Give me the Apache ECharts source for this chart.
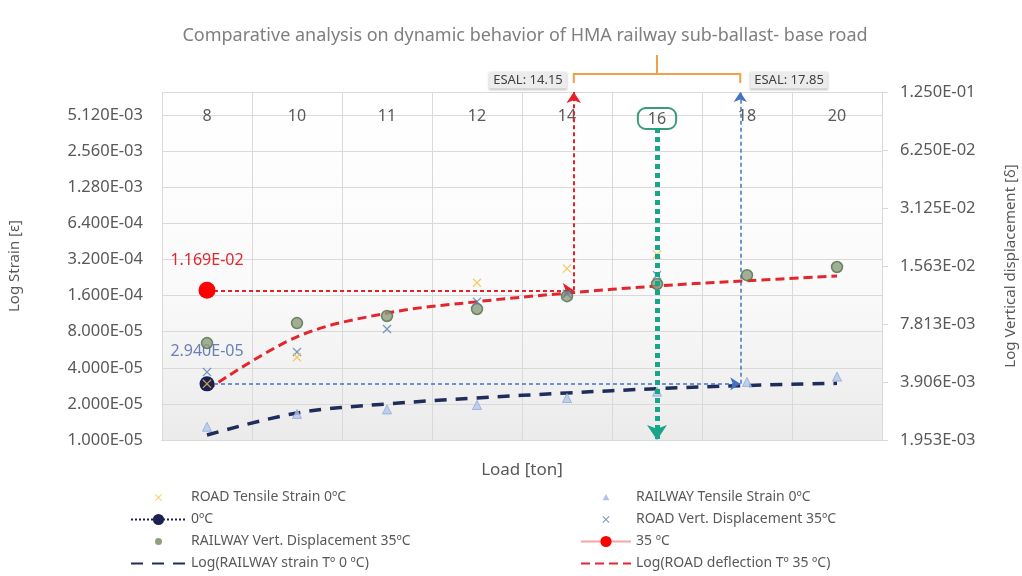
<!DOCTYPE html>
<html>
<head>
<meta charset="utf-8">
<title>HMA railway sub-ballast vs base road</title>
<script src="https://cdn.jsdelivr.net/npm/echarts@6/dist/echarts.min.js"></script>
<style>
  html, body { margin: 0; padding: 0; background: #fff; }
  #chart { width: 1022px; height: 576px; }
</style>
</head>
<body>
<div id="chart"></div>
<script>
// load categories [ton]
const loads = ['8', '10', '11', '12', '14', '16', '18', '20'];

// strain values (left axis, log base 2)
const roadTensile0 = [2.94e-5, 4.9e-5, null, 2.05e-4, 2.69e-4, 3.52e-4, null, null];
const railTensile0 = [1.29e-5, 1.65e-5, 1.8e-5, 1.96e-5, 2.24e-5, 2.53e-5, 3.05e-5, 3.38e-5];
const cold0 = [2.94e-5, null, null, null, null, null, null, null];
const railStrainTrend = [1.10e-5, 1.68e-5, 2.0e-5, 2.24e-5, 2.47e-5, 2.68e-5, 2.85e-5, 2.97e-5];

// vertical displacement values (right axis, log base 2)
const roadVert35 = [4.4e-3, 5.59e-3, 7.36e-3, 1.02e-2, 1.12e-2, 1.40e-2, null, null];
const railVert35 = [6.22e-3, 7.9e-3, 8.6e-3, 9.35e-3, 1.09e-2, 1.26e-2, 1.40e-2, 1.544e-2];
const hot35 = [1.169e-2, null, null, null, null, null, null, null];
const roadDeflTrend = [3.55e-3, 6.7e-3, 8.9e-3, 1.02e-2, 1.13e-2, 1.23e-2, 1.31e-2, 1.385e-2];

// ESAL limits [ton] and highlighted load
const esal = [14.15, 17.85];
const focusLoad = '16';

// axis ranges
const strainMin = 1e-5, strainMax = 8e-3;
const dispMin = 0.001953125, dispMax = 0.125;

const font = 'Noto Sans';
const grey = '#595959';

// log2 position on each axis
const sL = v => v == null ? '-' : Math.log2(v / strainMin);
const dL = v => v == null ? '-' : Math.log2(v / dispMin);

// 5.120E-03 style
function sci(v) {
  const parts = v.toExponential(3).split('e');
  const n = parseInt(parts[1], 10);
  return parts[0] + 'E' + (n < 0 ? '-' : '+') + String(Math.abs(n)).padStart(2, '0');
}

// position of a load on the category index scale
function loadIndex(t) {
  const nums = loads.map(Number);
  for (let i = 0; i < nums.length - 1; i++) {
    if (t >= nums[i] && t <= nums[i + 1]) {
      return i + (t - nums[i]) / (nums[i + 1] - nums[i]);
    }
  }
  return nums.length - 1;
}

// marker shapes; the legend versions carry an invisible 20x20 frame so they stay small
const xMark = 'path://M0,1L1,0L5,4L9,0L10,1L6,5L10,9L9,10L5,6L1,10L0,9L4,5Z';
const triMark = 'path://M5,0L10,9L0,9Z';
const frame = 'M0,0L0.01,0L0,0.01ZM20,20L19.99,20L20,19.99Z';
const xIcon = 'path://' + frame + 'M5,6L6,5L10,9L14,5L15,6L11,10L15,14L14,15L10,11L6,15L5,14L9,10Z';
const triIcon = 'path://' + frame + 'M10,5L15,14L5,14Z';
const dotIcon = 'path://' + frame + 'M10,5A5,5,0,1,1,9.99,5Z';

const e1 = loadIndex(esal[0]);
const e2 = loadIndex(esal[1]);
const focusIdx = loads.indexOf(focusLoad);

const chart = echarts.init(document.getElementById('chart'));

const legendText = { color: grey, fontSize: 14, lineHeight: 17, fontFamily: font };
const hideSymbol = { opacity: 0 };

chart.setOption({
  animation: false,
  backgroundColor: '#fff',
  textStyle: { fontFamily: font },
  title: {
    text: 'Comparative analysis on dynamic behavior of HMA railway sub-ballast- base road',
    left: 520,
    top: 22,
    textAlign: 'center',
    textStyle: { color: '#7f7f7f', fontSize: 18, fontWeight: 'normal', fontFamily: font }
  },
  grid: {
    left: 162, right: 140, top: 92, bottom: 136,
    show: true,
    borderWidth: 0,
    outerBoundsMode: 'none',
    backgroundColor: {
      type: 'linear', x: 0, y: 0, x2: 0, y2: 1,
      colorStops: [
        { offset: 0, color: '#ffffff' },
        { offset: 0.55, color: '#fafafa' },
        { offset: 1, color: '#ebebeb' }
      ]
    }
  },
  legend: [
    {
      data: [
        { name: 'ROAD Tensile Strain 0ºC', icon: xIcon },
        { name: '0ºC' },
        { name: 'RAILWAY Vert. Displacement 35ºC', icon: dotIcon, itemStyle: { borderWidth: 0, color: '#6f8a60' } },
        { name: 'Log(RAILWAY strain Tº 0 ºC)', itemStyle: hideSymbol }
      ],
      orient: 'vertical', left: 130, top: 489, padding: 0,
      itemWidth: 55, itemHeight: 14, itemGap: 5,
      selectedMode: false, textStyle: legendText
    },
    {
      data: [
        { name: 'RAILWAY Tensile Strain 0ºC', icon: triIcon, itemStyle: { borderWidth: 0, color: '#9fb6dd' } },
        { name: 'ROAD Vert. Displacement 35ºC', icon: xIcon },
        { name: '35 ºC' },
        { name: 'Log(ROAD deflection Tº 35 ºC)', itemStyle: hideSymbol }
      ],
      orient: 'vertical', left: 580, top: 489, padding: 0,
      itemWidth: 50, itemHeight: 14, itemGap: 5,
      selectedMode: false, textStyle: legendText
    }
  ],
  xAxis: [
    {
      type: 'category',
      data: loads,
      position: 'top',
      boundaryGap: true,
      axisLine: { lineStyle: { color: '#d9d9d9' } },
      axisTick: { show: false },
      splitLine: { show: true, interval: 0, lineStyle: { color: '#d9d9d9' } },
      axisLabel: {
        inside: true, margin: 16, interval: 0,
        color: grey, fontSize: 16,
        formatter: v => v === focusLoad ? '{hl|' + v + '}' : v,
        rich: {
          hl: {
            color: grey, fontSize: 16,
            borderColor: '#3c9a7c', borderWidth: 2, borderRadius: 8,
            padding: [3, 10, 2, 10]
          }
        }
      }
    },
    {
      type: 'category',
      data: loads,
      position: 'bottom',
      axisLine: { lineStyle: { color: '#d9d9d9' } },
      axisTick: { show: false },
      axisLabel: { show: false },
      name: 'Load [ton]',
      nameLocation: 'middle',
      nameGap: 22,
      nameTextStyle: { color: grey, fontSize: 17 }
    },
    {
      // index scale for the ESAL guides
      type: 'value', show: false, min: -0.5, max: loads.length - 0.5
    }
  ],
  yAxis: [
    {
      type: 'value',
      min: 0,
      max: Math.log2(strainMax / strainMin),
      interval: 1,
      axisLine: { show: false },
      axisTick: { show: false },
      splitLine: { lineStyle: { color: '#d9d9d9' } },
      axisLabel: {
        color: grey, fontSize: 16.5, margin: 19, showMaxLabel: false,
        formatter: v => sci(strainMin * Math.pow(2, v))
      },
      name: 'Log Strain [ε]',
      nameLocation: 'middle',
      nameGap: 140,
      nameTextStyle: { color: grey, fontSize: 15 }
    },
    {
      type: 'value',
      position: 'right',
      min: 0,
      max: Math.log2(dispMax / dispMin),
      interval: 1,
      axisLine: { show: true, lineStyle: { color: '#d9d9d9' } },
      axisTick: { show: true, length: 6, lineStyle: { color: '#d9d9d9' } },
      splitLine: { show: false },
      axisLabel: {
        color: grey, fontSize: 16.5, margin: 18,
        formatter: v => sci(dispMin * Math.pow(2, v))
      },
      name: 'Log Vertical displacement [δ]',
      nameLocation: 'middle',
      nameRotate: 90,
      nameGap: 121,
      nameTextStyle: { color: grey, fontSize: 15 }
    }
  ],
  series: [
    {
      name: 'Log(ROAD deflection Tº 35 ºC)',
      type: 'line',
      xAxisIndex: 0, yAxisIndex: 1,
      data: roadDeflTrend.map(dL),
      smooth: 0.35,
      symbol: 'none',
      lineStyle: { color: '#e3262e', width: 3, type: [9, 5] },
      itemStyle: { color: '#e3262e' },
      z: 2
    },
    {
      name: 'Log(RAILWAY strain Tº 0 ºC)',
      type: 'line',
      xAxisIndex: 0, yAxisIndex: 0,
      data: railStrainTrend.map(sL),
      smooth: 0.35,
      symbol: 'none',
      lineStyle: { color: '#1f2d5a', width: 3.5, type: [12, 9] },
      itemStyle: { color: '#1f2d5a' },
      z: 2
    },
    {
      // 35 ºC guide to ESAL 14.15
      type: 'lines',
      coordinateSystem: 'cartesian2d',
      xAxisIndex: 2, yAxisIndex: 1,
      symbol: ['none', 'arrow'],
      symbolSize: 11,
      lineStyle: { color: '#e8202a', width: 2, type: [4, 3], opacity: 1 },
      data: [
        { coords: [[0, dL(hot35[0])], [e1, dL(hot35[0])]] },
        { coords: [[e1, dL(hot35[0])], [e1, dL(dispMax)]] }
      ],
      z: 3
    },
    {
      // 0 ºC guide to ESAL 17.85
      type: 'lines',
      coordinateSystem: 'cartesian2d',
      xAxisIndex: 2, yAxisIndex: 0,
      symbol: ['none', 'arrow'],
      symbolSize: 10,
      lineStyle: { color: '#4472c4', width: 1.5, type: [4, 3], opacity: 1 },
      data: [
        { coords: [[0, sL(cold0[0])], [e2, sL(cold0[0])]] },
        { coords: [[e2, sL(cold0[0])], [e2, sL(strainMax)]] }
      ],
      z: 3
    },
    {
      // highlighted load
      type: 'lines',
      coordinateSystem: 'cartesian2d',
      xAxisIndex: 2, yAxisIndex: 0,
      symbol: ['none', 'arrow'],
      symbolSize: 15,
      lineStyle: { color: '#17a689', width: 5, type: [5, 4], opacity: 1 },
      data: [
        { coords: [[focusIdx, sL(strainMax) - 1], [focusIdx, 0]] }
      ],
      z: 6
    },
    {
      name: '0ºC',
      type: 'line',
      xAxisIndex: 0, yAxisIndex: 0,
      data: cold0.map(sL),
      symbol: 'circle',
      symbolSize: 15,
      itemStyle: { color: '#1b2150' },
      lineStyle: { color: '#1b2150', width: 3, type: 'dotted' },
      label: {
        show: true, position: 'top', distance: 17,
        color: '#6a7fb5', fontSize: 16,
        formatter: p => sci(cold0[p.dataIndex])
      },
      z: 4
    },
    {
      name: '35 ºC',
      type: 'line',
      xAxisIndex: 0, yAxisIndex: 1,
      data: hot35.map(dL),
      symbol: 'circle',
      symbolSize: 17,
      itemStyle: { color: '#ff0000' },
      lineStyle: { color: '#f4a6a6', width: 1.5 },
      label: {
        show: true, position: 'top', distance: 13,
        color: '#e0282e', fontSize: 16,
        formatter: p => sci(hot35[p.dataIndex])
      },
      z: 4
    },
    {
      name: 'RAILWAY Vert. Displacement 35ºC',
      type: 'scatter',
      xAxisIndex: 0, yAxisIndex: 1,
      data: railVert35.map(dL),
      symbol: 'circle',
      symbolSize: 11,
      itemStyle: { color: '#8d9b7c', borderColor: '#4b7048', borderWidth: 1.5 },
      z: 5
    },
    {
      name: 'ROAD Vert. Displacement 35ºC',
      type: 'scatter',
      xAxisIndex: 0, yAxisIndex: 1,
      data: roadVert35.map(dL),
      symbol: xMark,
      symbolSize: 9,
      itemStyle: { color: '#5b7fb5' },
      z: 5
    },
    {
      name: 'RAILWAY Tensile Strain 0ºC',
      type: 'scatter',
      xAxisIndex: 0, yAxisIndex: 0,
      data: railTensile0.map(sL),
      symbol: triMark,
      symbolSize: 9,
      itemStyle: { color: '#b4c7e7', borderColor: '#8faadc', borderWidth: 1 },
      z: 5
    },
    {
      name: 'ROAD Tensile Strain 0ºC',
      type: 'scatter',
      xAxisIndex: 0, yAxisIndex: 0,
      data: roadTensile0.map(sL),
      symbol: xMark,
      symbolSize: 9,
      itemStyle: { color: '#f5c242' },
      z: 5
    }
  ]
});

// ESAL bracket above the plot
const px1 = chart.convertToPixel({ xAxisIndex: 2 }, e1);
const px2 = chart.convertToPixel({ xAxisIndex: 2 }, e2);
const mid = (px1 + px2) / 2;
const bracketY = 74;
const esalStyle = {
  fill: '#404040', fontSize: 13, fontFamily: font,
  backgroundColor: '#ececec', padding: [2, 4],
  shadowColor: 'rgba(0,0,0,0.25)', shadowBlur: 2, shadowOffsetY: 1,
  verticalAlign: 'middle'
};

chart.setOption({
  graphic: [
    {
      type: 'polyline',
      shape: { points: [[px1, bracketY + 9], [px1, bracketY], [px2, bracketY], [px2, bracketY + 9]] },
      style: { stroke: '#f0a046', lineWidth: 2, fill: null }
    },
    {
      type: 'line',
      shape: { x1: mid, y1: 55, x2: mid, y2: bracketY },
      style: { stroke: '#f0a046', lineWidth: 2 }
    },
    {
      type: 'text', x: px1 - 7, y: 80,
      style: Object.assign({ text: 'ESAL: ' + esal[0], align: 'right' }, esalStyle)
    },
    {
      type: 'text', x: px2 + 10, y: 80,
      style: Object.assign({ text: 'ESAL: ' + esal[1], align: 'left' }, esalStyle)
    }
  ]
});
</script>
</body>
</html>
